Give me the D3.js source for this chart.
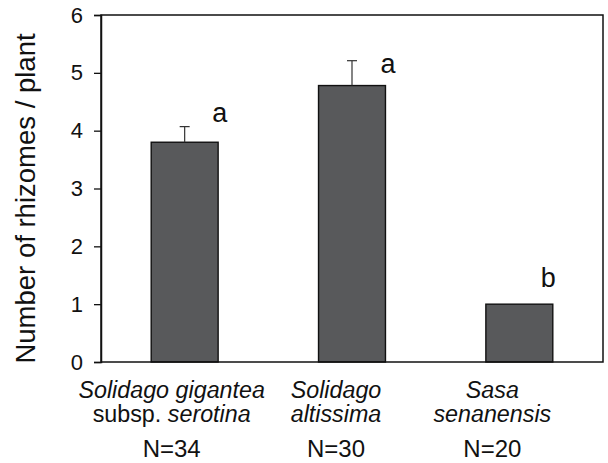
<!DOCTYPE html>
<html>
<head>
<meta charset="utf-8">
<script src="https://cdn.jsdelivr.net/npm/d3@7"></script>
<style>
  html, body { margin: 0; padding: 0; background: #fff; }
  svg { display: block; font-family: Arial, "Liberation Sans", sans-serif; }
</style>
</head>
<body>
<svg id="chart" width="608" height="463"></svg>
<script>
// Rhizome counts per plant for three species (mean + SE)
const species = ["Solidago gigantea subsp. serotina", "Solidago altissima", "Sasa senanensis"];
const meanRhizomes = [3.80, 4.78, 1.00];
const seRhizomes = [0.27, 0.43, 0.0];
const sampleSizes = [34, 30, 20];
const groupLetters = ["a", "a", "b"];
const yTicks = [0, 1, 2, 3, 4, 5, 6];

// Category label lines: [text, italic] segments per line
const labelLines = [
  [[["Solidago gigantea", true]], [["subsp. ", false], ["serotina", true]]],
  [[["Solidago", true]], [["altissima", true]]],
  [[["Sasa", true]], [["senanensis", true]]]
];

const svg = d3.select("#chart");
const margin = { left: 101, right: 5, top: 15, bottom: 101 };
const W = 608, H = 463;
const plotW = W - margin.left - margin.right;
const plotH = H - margin.top - margin.bottom;

const g = svg.append("g").attr("transform", `translate(${margin.left},${margin.top})`);

const x = d3.scaleBand()
  .domain(d3.range(species.length))
  .range([0, plotW])
  .paddingInner(0.6)
  .paddingOuter(0.3);

const y = d3.scaleLinear().domain([0, 6]).range([plotH, 0]);

// Bars
g.selectAll("rect.bar")
  .data(meanRhizomes)
  .join("rect")
  .attr("class", "bar")
  .attr("x", (d, i) => x(i))
  .attr("y", d => y(d))
  .attr("width", x.bandwidth())
  .attr("height", d => plotH - y(d))
  .attr("fill", "#58595b")
  .attr("stroke", "#111")
  .attr("stroke-width", 1.4);

// Upper error bars
const errData = meanRhizomes.map((m, i) => ({ i, m, se: seRhizomes[i] })).filter(d => d.se > 0);
const cx = i => x(i) + x.bandwidth() / 2;
g.selectAll("line.err")
  .data(errData)
  .join("line")
  .attr("x1", d => cx(d.i)).attr("x2", d => cx(d.i))
  .attr("y1", d => y(d.m)).attr("y2", d => y(d.m + d.se))
  .attr("stroke", "#333").attr("stroke-width", 1.2);
g.selectAll("line.cap")
  .data(errData)
  .join("line")
  .attr("x1", d => cx(d.i) - 5).attr("x2", d => cx(d.i) + 5)
  .attr("y1", d => y(d.m + d.se)).attr("y2", d => y(d.m + d.se))
  .attr("stroke", "#333").attr("stroke-width", 1.2);

// Significance letters
const letterDx = [35, 36, 29];
const letterDy = [-5, 12, -17];
g.selectAll("text.letter")
  .data(groupLetters)
  .join("text")
  .attr("class", "letter")
  .attr("x", (d, i) => cx(i) + letterDx[i])
  .attr("y", (d, i) => y(meanRhizomes[i] + seRhizomes[i]) + letterDy[i])
  .attr("text-anchor", "middle")
  .attr("font-size", 27)
  .attr("fill", "#111")
  .text(d => d);

// Frame
g.append("rect")
  .attr("x", 0).attr("y", 0)
  .attr("width", plotW).attr("height", plotH)
  .attr("fill", "none")
  .attr("stroke", "#111")
  .attr("stroke-width", 1.5);

// Y axis
const yAxis = g.append("g")
  .call(d3.axisLeft(y).tickValues(yTicks).tickSize(7).tickPadding(11).tickFormat(d3.format("d")));
yAxis.select(".domain").attr("stroke", "#111").attr("stroke-width", 1.5);
yAxis.selectAll(".tick line").attr("stroke", "#111").attr("stroke-width", 1.3);
yAxis.selectAll(".tick text")
  .attr("font-size", 22)
  .attr("font-family", "Arial, 'Liberation Sans', sans-serif")
  .attr("fill", "#111");

// Y title
svg.append("text")
  .attr("transform", `translate(35,${margin.top + plotH / 2 + 10}) rotate(-90)`)
  .attr("text-anchor", "middle")
  .attr("font-size", 27.5)
  .attr("fill", "#111")
  .text("Number of rhizomes / plant");

// Category labels and sample sizes
const labelNudge = [-13, -16, -27];
const lineBaselines = [397.5, 422];
labelLines.forEach((lines, i) => {
  const lx = margin.left + cx(i) + labelNudge[i];
  lines.forEach((segs, li) => {
    const t = svg.append("text")
      .attr("x", lx)
      .attr("y", lineBaselines[li])
      .attr("text-anchor", "middle")
      .attr("font-size", 23.3)
      .attr("fill", "#111");
    segs.forEach(([s, it]) => {
      t.append("tspan").attr("font-style", it ? "italic" : "normal").text(s);
    });
  });
  svg.append("text")
    .attr("x", lx)
    .attr("y", 457)
    .attr("text-anchor", "middle")
    .attr("font-size", 24)
    .attr("fill", "#111")
    .text("N=" + sampleSizes[i]);
});
</script>
</body>
</html>
